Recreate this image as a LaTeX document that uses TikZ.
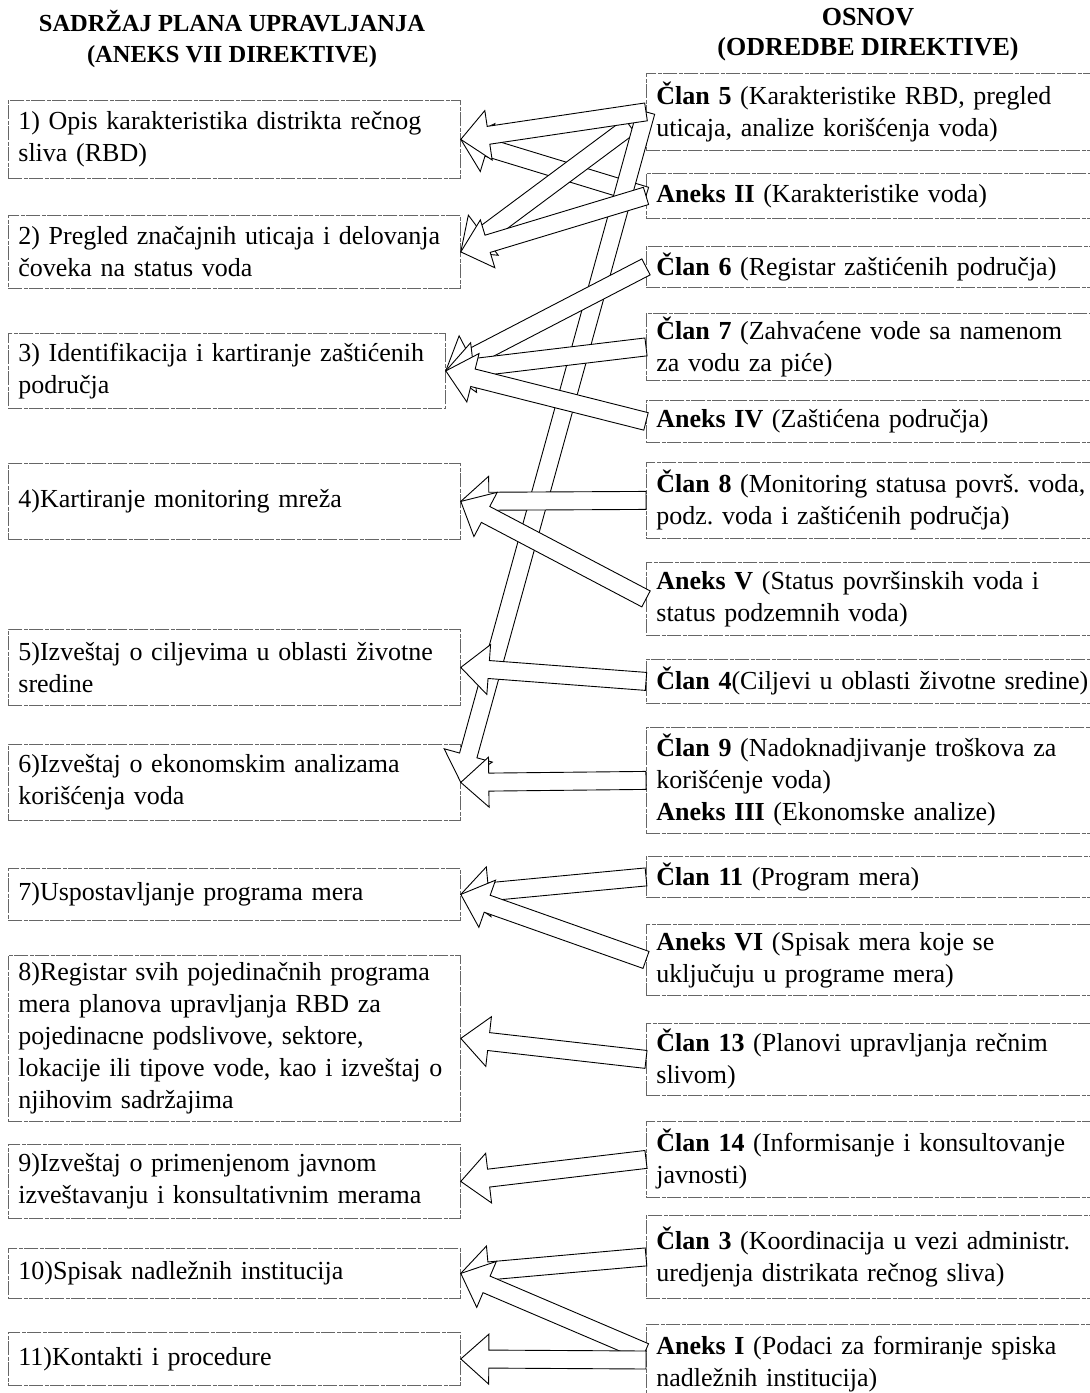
\documentclass[tikz,border=0pt]{standalone}
\usepackage{fontspec}
\setmainfont{Liberation Serif}
\usetikzlibrary{calc}
\frenchspacing
\tikzset{
 box/.style={draw=black!60, line width=0.8pt, dash pattern=on 14pt off 1.5pt on 4pt off 1.5pt, anchor=north west, inner xsep=10pt, inner ysep=0pt, align=left, font=\fontsize{26pt}{32pt}\selectfont\frenchspacing},
 lbox/.style={box, minimum width=452pt, text width=432pt},
 rbox/.style={box, minimum width=460pt, text width=440pt},
 blockarr/.style={draw=black, fill=white, line width=0.9pt, line join=miter},
 hdr/.style={font=\bfseries\fontsize{24.5pt}{31pt}\selectfont, align=center}
}
\newcommand\blockarrow[2]{%
 \coordinate (ba-b) at ($(#2)!28pt!(#1)$);
 \draw[blockarr] ($(#1)!9pt!90:(#2)$) -- ($(ba-b)!9pt!90:(#2)$) -- ($(ba-b)!25pt!90:(#2)$) -- (#2) -- ($(ba-b)!25pt!-90:(#2)$) -- ($(ba-b)!9pt!-90:(#2)$) -- ($(#1)!9pt!-90:(#2)$) -- cycle;}
\begin{document}
\begin{tikzpicture}[x=1pt,y=-1pt]
\useasboundingbox (0,0) rectangle (1090,1393);
\clip (0,0) rectangle (1090,1393);
\node[hdr] (hl) at (232,39) {SADRŽAJ PLANA UPRAVLJANJA\\(ANEKS VII DIREKTIVE)};
\node[hdr, font=\bfseries\fontsize{26pt}{30pt}\selectfont] (hr) at (868,35) {OSNOV\\(ODREDBE DIREKTIVE)};
% left column
\node[lbox, minimum height=78pt] (b1) at (8,100) {1) Opis karakteristika distrikta rečnog\\sliva (RBD)};
\node[lbox, minimum height=73pt] (b2) at (8,215) {2) Pregled značajnih uticaja i delovanja\\čoveka na status voda};
\node[lbox, minimum width=437pt, text width=417pt, minimum height=75pt] (b3) at (8,333) {3) Identifikacija i kartiranje zaštićenih\\područja};
\node[lbox, minimum height=76pt] (b4) at (8,463) {4)Kartiranje monitoring mreža};
\node[lbox, minimum height=76pt] (b5) at (8,629) {5)Izveštaj o ciljevima u oblasti životne\\sredine};
\node[lbox, minimum height=76pt] (b6) at (8,744) {6)Izveštaj o ekonomskim analizama\\korišćenja voda};
\node[lbox, minimum height=52pt] (b7) at (8,868) {7)Uspostavljanje programa mera};
\node[lbox, minimum height=166pt] (b8) at (8,955) {8)Registar svih pojedinačnih programa\\mera planova upravljanja RBD za\\pojedinacne podslivove, sektore,\\lokacije ili tipove vode, kao i izveštaj o\\njihovim sadržajima};
\node[lbox, minimum height=74pt] (b9) at (8,1144) {9)Izveštaj o primenjenom javnom\\izveštavanju i konsultativnim merama};
\node[lbox, minimum height=50pt] (b10) at (8,1248) {10)Spisak nadležnih institucija};
\node[lbox, minimum height=53pt] (b11) at (8,1332) {11)Kontakti i procedure};
% right column
\node[rbox, minimum height=77pt] (c5) at (646,73) {\textbf{Član 5} (Karakteristike RBD, pregled\\uticaja, analize korišćenja voda)};
\node[rbox, minimum height=45pt] (a2) at (646,173) {\textbf{Aneks II} (Karakteristike voda)};
\node[rbox, minimum height=41pt] (c6) at (646,246) {\textbf{Član 6} (Registar zaštićenih područja)};
\node[rbox, minimum height=67pt] (c7) at (646,313) {\textbf{Član 7} (Zahvaćene vode sa namenom\\za vodu za piće)};
\node[rbox, minimum height=42pt] (a4) at (646,400) {\textbf{Aneks IV} (Zaštićena područja)};
\node[rbox, minimum height=76pt] (c8) at (646,462) {\textbf{Član 8} (Monitoring statusa površ. voda,\\podz. voda i zaštićenih područja)};
\node[rbox, minimum height=73pt] (a5) at (646,562) {\textbf{Aneks V} (Status površinskih voda i\\status podzemnih voda)};
\node[rbox, minimum height=44pt] (c4) at (646,659) {\textbf{Član 4}(Ciljevi u oblasti životne sredine)};
\node[rbox, minimum height=106pt] (c9) at (646,727) {\textbf{Član 9} (Nadoknadjivanje troškova za\\korišćenje voda)\\\textbf{Aneks III} (Ekonomske analize)};
\node[rbox, minimum height=41pt] (c11) at (646,856) {\textbf{Član 11} (Program mera)};
\node[rbox, minimum height=71pt] (a6) at (646,924) {\textbf{Aneks VI} (Spisak mera koje se\\uključuju u programe mera)};
\node[rbox, minimum height=72pt] (c13) at (646,1023) {\textbf{Član 13} (Planovi upravljanja rečnim\\slivom)};
\node[rbox, minimum height=76pt] (c14) at (646,1121) {\textbf{Član 14} (Informisanje i konsultovanje\\javnosti)};
\node[rbox, minimum height=83pt] (c3) at (646,1215) {\textbf{Član 3} (Koordinacija u vezi administr.\\uredjenja distrikata rečnog sliva)};
\node[rbox, minimum height=80pt] (a1) at (646,1324) {\textbf{Aneks I} (Podaci za formiranje spiska\\nadležnih institucija)};
% arrows (drawing order = stacking order)
\coordinate (c5s) at (630,126);
\coordinate (a1s) at (645,1352);
\coordinate (a1h) at (646,1360);
\blockarrow{a2.west}{b1.east}
\blockarrow{c5s}{b2.east}
\blockarrow{c5.west}{b6.east}
\blockarrow{c5.west}{b1.east}
\blockarrow{a2.west}{b2.east}
\blockarrow{c6.west}{b3.east}
\blockarrow{c7.west}{b3.east}
\blockarrow{a4.west}{b3.east}
\blockarrow{c8.west}{b4.east}
\blockarrow{a5.west}{b4.east}
\blockarrow{c4.west}{b5.east}
\blockarrow{c9.west}{b6.east}
\blockarrow{c11.west}{b7.east}
\blockarrow{a6.west}{b7.east}
\blockarrow{c13.west}{b8.east}
\blockarrow{c14.west}{b9.east}
\blockarrow{c3.west}{b10.east}
\blockarrow{a1s}{b10.east}
\blockarrow{a1h}{b11.east}
\end{tikzpicture}
\end{document}
